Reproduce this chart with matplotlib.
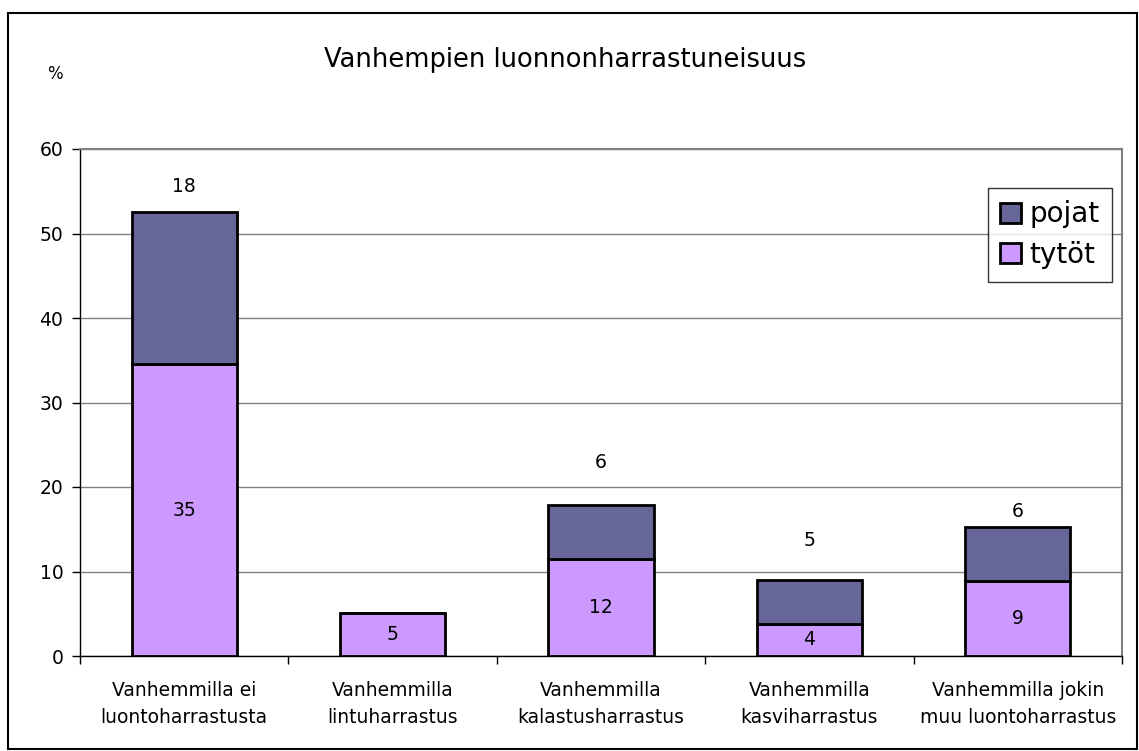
import matplotlib
matplotlib.use("Agg")
import matplotlib.pyplot as plt
from matplotlib.patches import Rectangle
import numpy as np

categories = ["Vanhemmilla ei\nluontoharrastusta", "Vanhemmilla\nlintuharrastus",
              "Vanhemmilla\nkalastusharrastus", "Vanhemmilla\nkasviharrastus",
              "Vanhemmilla jokin\nmuu luontoharrastus"]
tytot = [34.5, 5.1, 11.5, 3.8, 8.9]
pojat = [18.1, 0.0, 6.4, 5.2, 6.4]
tytot_labels = ["35", "5", "12", "4", "9"]
pojat_labels = ["18", "", "6", "5", "6"]
pojat_label_offset_px = [25, 0, 42, 39, 15]

col_pojat = "#666699"
col_tytot = "#CC99FF"

plt.rcParams['font.family'] = ['DejaVu Sans']
fig = plt.figure(figsize=(11.39, 7.51), dpi=100)
W, H = 1139, 751
ax = fig.add_axes([80 / W, 1 - 656 / H, (1122 - 80) / W, (656 - 149) / H])

x = np.arange(len(categories))
bw = 0.505
ax.bar(x, tytot, bw, color=col_tytot, edgecolor="black", linewidth=2, label="tytöt", zorder=3)
ax.bar(x, pojat, bw, bottom=tytot, color=col_pojat, edgecolor="black", linewidth=2, label="pojat", zorder=3)

for i in range(len(x)):
    ax.text(x[i], tytot[i] / 2, tytot_labels[i], ha="center", va="center", fontsize=13.5, zorder=4)
    if pojat_labels[i]:
        ax.annotate(pojat_labels[i], (x[i], tytot[i] + pojat[i]), xytext=(0, pojat_label_offset_px[i] * 0.72),
                    textcoords="offset points", ha="center", va="center", fontsize=13.5)

ax.set_xlim(-0.5, len(x) - 0.5)
ax.set_ylim(0, 60)
ax.set_yticks(range(0, 61, 10))
ax.yaxis.grid(True, color="#808080", linewidth=1, zorder=0)
ax.set_axisbelow(True)
ax.set_xticks(x)
ax.set_xticklabels(categories, fontsize=13.5, linespacing=1.55)
ax.set_xticks(np.arange(-0.5, len(x), 1), minor=True)
ax.tick_params(axis="x", which="major", length=0, pad=18)
ax.tick_params(axis="x", which="minor", length=6, width=1)
ax.tick_params(axis="y", length=6, width=1, labelsize=13.5, pad=6)
for s in ["left", "bottom"]:
    ax.spines[s].set_color("black")
    ax.spines[s].set_linewidth(1)
for s in ["top", "right"]:
    ax.spines[s].set_color("#808080")
    ax.spines[s].set_linewidth(1.5)

h, l = ax.get_legend_handles_labels()
leg = ax.legend(h[::-1], l[::-1], loc="upper right", bbox_to_anchor=((1112 - 80) / (1122 - 80), (656 - 188) / (656 - 149)),
                fontsize=20, frameon=True, fancybox=False, edgecolor="black", handlelength=0.75, handleheight=0.75,
                handletextpad=0.3, borderpad=0.45, labelspacing=0.45, borderaxespad=0)
leg.get_frame().set_linewidth(1)

fig.text(565 / W, 1 - 60 / H, "Vanhempien luonnonharrastuneisuus", ha="center", va="center", fontsize=18.5)
fig.text(55 / W, 1 - 74 / H, "%", ha="center", va="center", fontsize=12)

fig.patches.append(Rectangle((8 / W, 2 / H), (1137 - 8) / W, (751 - 13 - 2) / H, transform=fig.transFigure,
                             fill=False, edgecolor="black", linewidth=1.5))

fig.savefig("out.png", dpi=100)
